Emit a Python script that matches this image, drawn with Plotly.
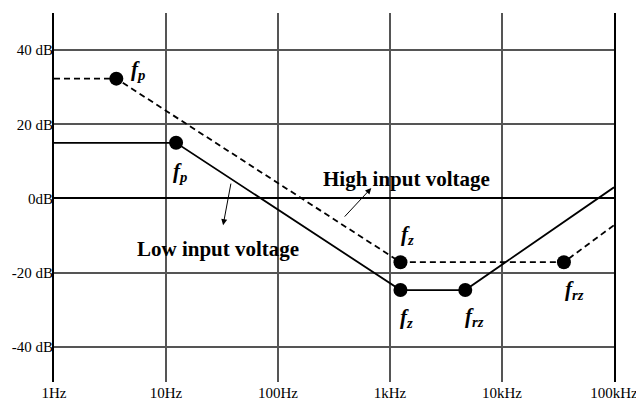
import plotly.graph_objects as go
import math

# Data (frequency in Hz, gain in dB)
low_freq = [1, 12.3, 1240, 4700, 100000]
low_db = [15, 15, -24.7, -24.7, 3]
low_marker_freq = [12.3, 1240, 4700]
low_marker_db = [15, -24.7, -24.7]

high_freq = [1, 3.6, 1240, 35700, 100000]
high_db = [32.3, 32.3, -17.2, -17.2, -7.2]
high_marker_freq = [3.6, 1240, 35700]
high_marker_db = [32.3, -17.2, -17.2]

x_tickvals = [1, 10, 100, 1000, 10000, 100000]
x_ticktext = ["1Hz", "10Hz", "100Hz", "1kHz", "10kHz", "100kHz"]
y_tickvals = [40, 20, 0, -20, -40]
y_ticktext = ["40 dB", "20 dB", "0dB", "-20 dB", "-40 dB"]

FONT = "Liberation Serif, Times New Roman, serif"

fig = go.Figure()
fig.add_trace(go.Scatter(x=high_freq, y=high_db, mode="lines",
                         line=dict(color="black", width=1.8, dash="6px,4px"),
                         showlegend=False, hoverinfo="skip"))
fig.add_trace(go.Scatter(x=low_freq, y=low_db, mode="lines",
                         line=dict(color="black", width=1.8),
                         showlegend=False, hoverinfo="skip"))
fig.add_trace(go.Scatter(x=high_marker_freq, y=high_marker_db, mode="markers",
                         marker=dict(color="black", size=14),
                         showlegend=False, hoverinfo="skip"))
fig.add_trace(go.Scatter(x=low_marker_freq, y=low_marker_db, mode="markers",
                         marker=dict(color="black", size=14),
                         showlegend=False, hoverinfo="skip"))

def lab(base, sub):
    return f"<b><i>{base}</i></b><sub><b><i>{sub}</i></b></sub>"

labels = [
    (5.6, 34.5, "f", "p"),
    (13.4, 7.1, "f", "p"),
    (1430, -9.8, "f", "z"),
    (1400, -32.2, "f", "z"),
    (5690, -32.0, "f", "rz"),
    (44700, -24.7, "f", "rz"),
]
annotations = []
for fx, dy, b, s in labels:
    annotations.append(dict(x=math.log10(fx), y=dy, xref="x", yref="y",
                            text=lab(b, s), showarrow=False,
                            font=dict(family=FONT, size=21, color="black")))

annotations.append(dict(x=3.145, y=5.2, xref="x", yref="y",
                        text="<b>High input voltage</b>", showarrow=False,
                        font=dict(family=FONT, size=21, color="black")))
annotations.append(dict(x=1.466, y=-13.6, xref="x", yref="y",
                        text="<b>Low input voltage</b>", showarrow=False,
                        font=dict(family=FONT, size=21, color="black")))
# arrows
annotations.append(dict(x=1.51, y=-7.2, ax=1.582, ay=4.4, xref="x", yref="y",
                        axref="x", ayref="y", text="", showarrow=True,
                        arrowhead=2, arrowsize=1.2, arrowwidth=1, arrowcolor="black"))
annotations.append(dict(x=2.833, y=2.8, ax=2.583, ay=-5.3, xref="x", yref="y",
                        axref="x", ayref="y", text="", showarrow=True,
                        arrowhead=2, arrowsize=1.2, arrowwidth=1, arrowcolor="black"))

# The page body adds an 8px offset, so the figure is sized to fit inside the window.
fig.update_layout(
    width=636, height=393,
    margin=dict(l=46, r=30, t=5, b=19),
    plot_bgcolor="white", paper_bgcolor="white",
    annotations=annotations,
    font=dict(family=FONT, size=15, color="black"),
)
fig.update_xaxes(type="log", range=[0, 5], tickvals=x_tickvals, ticktext=x_ticktext,
                 showgrid=True, gridcolor="#555", gridwidth=1.5,
                 showline=False, zeroline=False, ticks="", automargin=False,
                 tickfont=dict(family=FONT, size=15, color="black"))
fig.update_yaxes(range=[-49.5, 50], tickvals=y_tickvals, ticktext=y_ticktext,
                 showgrid=True, gridcolor="#555", gridwidth=1.5,
                 zeroline=True, zerolinecolor="black", zerolinewidth=2,
                 showline=True, linecolor="black", linewidth=2, mirror=True,
                 ticks="", ticklabelstandoff=-4, automargin=False,
                 tickfont=dict(family=FONT, size=15, color="black"))

fig.write_html("out.html")
